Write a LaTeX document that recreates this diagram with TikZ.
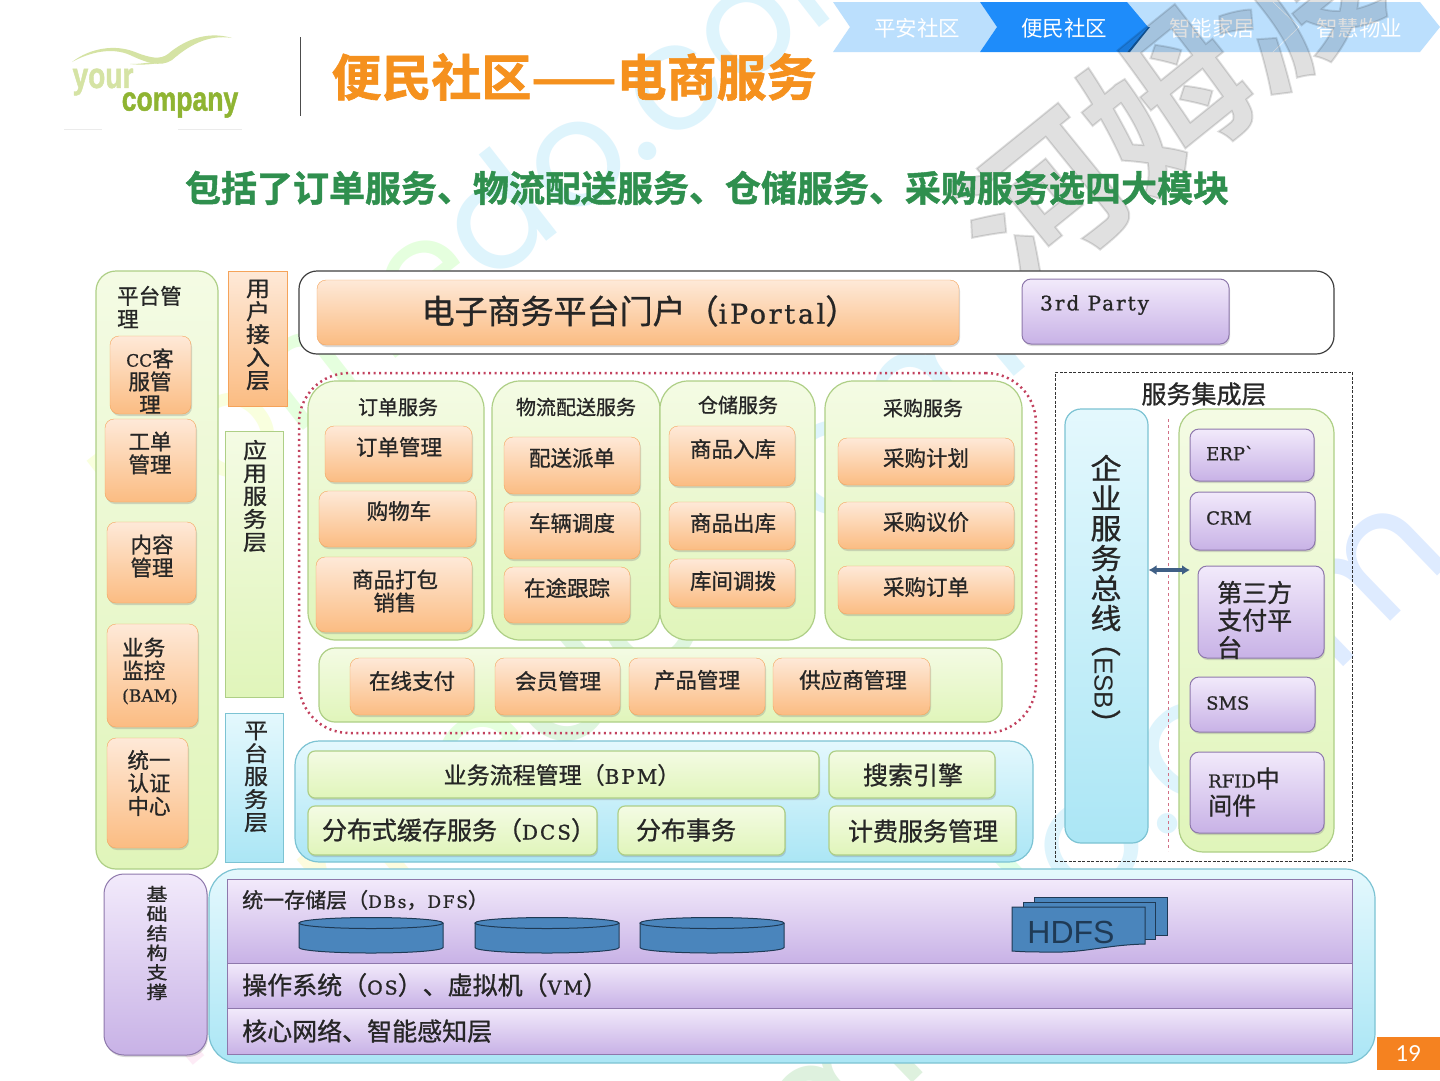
\documentclass[tikz,border=0pt]{standalone}
\usepackage{fontspec}
\usetikzlibrary{shadows,arrows.meta}
\setmainfont{Noto Sans CJK SC}[FakeBold=0.9]
\newfontfamily\cjkhead{Noto Sans CJK SC}
\newfontfamily\cjkfat{Noto Sans CJK SC Bold}[FakeBold=1.2]
\newfontfamily\latn{DejaVu Serif}[FakeBold=0.8]
\newfontfamily\latw{DejaVu Serif}[FakeBold=1,LetterSpace=10]
\newfontfamily\sansf{Liberation Sans}
\newfontfamily\sansb{Liberation Sans Bold}[FakeBold=1.5]
\newfontfamily\markf{Poppins}
\newfontfamily\pagef{Lato}
\definecolor{orangeln}{HTML}{F5A35A}
\definecolor{orangetop}{HTML}{FEE9D8}
\definecolor{orangebot}{HTML}{FBBC82}
\definecolor{purpleln}{HTML}{8E78AC}
\definecolor{purpletop}{HTML}{F2EAFB}
\definecolor{purplebot}{HTML}{C8B2E6}
\definecolor{greenln}{HTML}{AECF86}
\definecolor{greentop}{HTML}{F4FBE4}
\definecolor{greenbot}{HTML}{E0F5BA}
\definecolor{blueln}{HTML}{7CC3D3}
\definecolor{bluetop}{HTML}{E4F8FD}
\definecolor{bluebot}{HTML}{ABE6F5}
\definecolor{drumblue}{HTML}{4A85BC}
\definecolor{drumln}{HTML}{1F3A55}
\definecolor{titleor}{HTML}{F5911E}
\definecolor{subgreen}{HTML}{2F8F4E}
\definecolor{navlight}{HTML}{BBDFFD}
\definecolor{navblue}{HTML}{1E8CFA}
\definecolor{logolight}{HTML}{D5E3A4}
\definecolor{logodark}{HTML}{8FB432}
\definecolor{zonered}{HTML}{C2415E}
\definecolor{busblue}{HTML}{3F5F85}
\definecolor{pagebg}{HTML}{F58220}
\tikzset{>=latex,
  softshadow/.style={drop shadow={shadow xshift=1pt,shadow yshift=-2pt,opacity=.3}},
  orangebox/.style={draw=orangeln,top color=orangetop,bottom color=orangebot,rounded corners=9pt,softshadow},
  purplebox/.style={draw=purpleln,line width=1pt,top color=purpletop,bottom color=purplebot,rounded corners=9pt,softshadow},
  greenpanel/.style={draw=greenln,line width=1.2pt,top color=greentop,bottom color=greenbot,rounded corners=#1},
  greenpanel/.default=18pt,
  greenbox/.style={greenpanel=7pt,softshadow},
  bluepanel/.style={draw=blueln,line width=1.2pt,top color=bluetop,bottom color=bluebot,rounded corners=#1},
  flatorange/.style={draw=orangeln,top color=orangetop,bottom color=orangebot},
  flatgreen/.style={draw=greenln,top color=greentop,bottom color=greenbot},
  flatblue/.style={draw=blueln,top color=bluetop,bottom color=bluebot},
  flatpurple/.style={draw=purpleln,line width=1pt,top color=purpletop,bottom color=purplebot},
  txt/.style={inner sep=0pt,align=center,text=black!85,font=\fontsize{21.5}{23}\selectfont},
  txtl/.style={txt,align=left,anchor=west},
  paneltxt/.style={txt,font=\fontsize{20}{22}\selectfont},
  vertxt/.style={txt,yscale=.9,font=\fontsize{24}{25.5}\selectfont},
  navtxt/.style={inner sep=0pt,text=white,font=\cjkhead\fontsize{21.5}{25}\selectfont},
  drum/.style={draw=drumln,line width=1pt,fill=drumblue},
  wmark/.style={inner sep=0pt,text opacity=.13,font=\markf\fontsize{#1}{#1}\selectfont},
}
% box from corner to corner, text at its own spot
\newcommand{\panel}[6]{%
  \node[#1,inner sep=0pt,minimum width={(#5-#3)*1pt},minimum height={(#6-#4)*1pt}] (#2) at ({(#3+#5)/2},{(#4+#6)/2}) {};
}
\newcommand{\pbox}[9]{%
  \panel{#1}{#2}{#3}{#4}{#5}{#6}
  \node[txt] (#2t) at (#7,#8) {#9};
}
\newcommand{\lbox}[9]{%
  \panel{#1}{#2}{#3}{#4}{#5}{#6}
  \node[txtl] (#2t) at (#7,#8) {#9};
}
\begin{document}
\begin{tikzpicture}[x=1pt,y=-1pt]
  \useasboundingbox (0,0) rectangle (1440,1080);
  \fill[white] (0,0) rectangle (1440,1080);

  % watermark, under the boxes
  \node[wmark=148,rotate=38] (markA) at (505,205) {\textcolor{lime!70!yellow}{ho}\textcolor{green!70!lime}{me}\textcolor{cyan}{do.com}};
  \node[wmark=165,rotate=40] (markB) at (570,670) {\textcolor{magenta!60}{h}\textcolor{cyan}{o}\textcolor{yellow!80!lime}{m}\textcolor{green!70!lime}{e}\textcolor{green!70!black}{do}\textcolor{cyan}{.com}};
  \node[wmark=165,rotate=44] (markC) at (1015,900) {\textcolor{lime!70!yellow}{ho}\textcolor{green!60!black}{me}\textcolor{green!70!cyan}{d}\textcolor{cyan}{o.c}\textcolor{blue!60!cyan}{om}};

  % head
  \fill[navlight] (833,2) -- (980,2) -- (997,27) -- (980,52) -- (833,52) -- (850,27) -- cycle;
  \fill[navlight] (1120,2) -- (1420,2) -- (1440,27) -- (1420,52) -- (1120,52) -- cycle;
  \draw[white] (1273,2) -- (1299,27) -- (1273,52);
  \fill[navblue!65!black] (1127,52) -- (1147,27) -- (1150,27) -- (1130,52) -- cycle;
  \fill[navblue] (980,2) -- (1127,2) -- (1148,27) -- (1127,52) -- (980,52) -- (997,27) -- cycle;
  \node[navtxt] (navA) at (917,28) {平安社区};
  \node[navtxt] (navB) at (1064,28) {便民社区};
  \node[navtxt] (navC) at (1212,28) {智能家居};
  \node[navtxt] (navD) at (1359,28) {智慧物业};
  \node[inner sep=0pt,text=black,text opacity=.12,rotate=39,font=\cjkfat\fontsize{160}{160}\selectfont] (markD) at (1165,100) {河姆渡};
  % logo
  \fill[logolight] (72,62) .. controls (90,48) and (115,44) .. (135,52) .. controls (150,58) and (160,60) .. (168,54) .. controls (182,42) and (205,30) .. (232,38) .. controls (208,34) and (188,46) .. (172,60) .. controls (160,68) and (145,62) .. (130,55) .. controls (112,47) and (90,52) .. (72,62) -- cycle;
  \fill[logolight] (130,64) .. controls (148,64) and (165,60) .. (178,55) .. controls (168,63) and (148,66) .. (130,64) -- cycle;
  \node[inner sep=0pt,text=logolight,xscale=.78,font=\sansb\fontsize{36}{38}\selectfont] (logoA) at (103,82) {your};
  \node[inner sep=0pt,text=logodark,xscale=.78,font=\sansb\fontsize{34}{36}\selectfont] (logoB) at (180,105) {company};
  \draw[black!8,line width=1pt] (64,129) -- (102,129) (178,129) -- (242,129);
  \draw[black!70] (300,37) -- (300,116);
  \node[inner sep=0pt,text=titleor,font=\cjkfat\fontsize{50}{52}\selectfont] (title) at (574,77) {便民社区——电商服务};
  \node[inner sep=0pt,text=subgreen,font=\cjkfat\fontsize{36}{40}\selectfont] (subtitle) at (707,188) {包括了订单服务、物流配送服务、仓储服务、采购服务选四大模块};

  % left column
  \panel{greenpanel=20pt}{mgmt}{96}{271}{218}{869}
  \node[txtl] (mgmtt) at (117,307) {平台管\\理};
  \pbox{orangebox}{cc}{110}{336}{191}{414}{150}{381}{{\latn\fontsize{17}{17}\selectfont CC}客\\服管\\理}
  \pbox{orangebox}{order}{105}{419}{196}{502}{150}{453}{工单\\管理}
  \pbox{orangebox}{content}{107}{522}{196}{603}{152}{556}{内容\\管理}
  \lbox{orangebox}{bam}{107}{624}{198}{727}{122}{671}{业务\\监控\\{\latn\fontsize{17}{17}\selectfont (BAM)}}
  \pbox{orangebox}{auth}{107}{738}{188}{848}{149}{783}{统一\\认证\\中心}

  % layer labels
  \panel{flatorange}{layerA}{228}{271}{287}{406}
  \node[vertxt] (layerAt) at (258,335) {用\\户\\接\\入\\层};
  \panel{flatgreen}{layerB}{225}{431}{283}{697}
  \node[vertxt] (layerBt) at (255,496) {应\\用\\服\\务\\层};
  \panel{flatblue}{layerC}{225}{713}{283}{862}
  \node[vertxt] (layerCt) at (256,777) {平\\台\\服\\务\\层};

  % portal row
  \node[draw=black!75,line width=1.2pt,rounded corners=18pt,fill=white,inner sep=0pt,minimum width=1035pt,minimum height=83pt] (portalrow) at (816.5,312.5) {};
  \pbox{orangebox}{portal}{317}{280}{959}{345}{640}{311}{\fontsize{33}{36}\selectfont 电子商务平台门户（{\latw\fontsize{27}{28}\selectfont iPortal}）}
  \lbox{purplebox}{party}{1022}{279}{1229}{344}{1040}{305}{\latw\fontsize{20}{24}\selectfont 3rd Party}

  % application services
  \node[draw=zonered,dash pattern=on 2pt off 3.5pt,line width=2.5pt,rounded corners=50pt,inner sep=0pt,minimum width=737pt,minimum height=360pt] (appzone) at (667.5,553) {};
  \panel{greenpanel=28pt}{ordersvc}{308}{381}{484}{640}
  \panel{greenpanel=28pt}{logistics}{492}{381}{660}{640}
  \panel{greenpanel=28pt}{storage}{660}{381}{815}{640}
  \panel{greenpanel=28pt}{purchase}{825}{381}{1022}{640}
  \node[paneltxt] (ordersvct) at (398,407) {订单服务};
  \node[paneltxt] (logisticst) at (576,407) {物流配送服务};
  \node[paneltxt] (storaget) at (738,405) {仓储服务};
  \node[paneltxt] (purchaset) at (923,408) {采购服务};
  \panel{greenpanel=16pt}{commonrow}{319}{648}{1002}{722}
  \foreach \nm/\xa/\ya/\xb/\yb/\tx/\ty/\lb in {
    oA/325/426/472/482/399/447/订单管理, oB/319/491/476/547/399/511/购物车,
    oC/316/557/472/632/395/591/{商品打包\\销售},
    lA/504/437/640/494/572/458/配送派单, lB/504/502/640/559/572/523/车辆调度, lC/504/567/630/623/567/588/在途跟踪,
    sA/669/426/795/486/733/449/商品入库, sB/669/502/795/550/733/523/商品出库, sC/669/559/795/607/733/581/库间调拨,
    pA/838/438/1014/485/926/458/采购计划, pB/838/502/1014/549/926/522/采购议价, pC/838/566/1014/614/926/587/采购订单,
    gA/350/658/474/715/412/681/在线支付, gB/495/658/620/715/558/681/会员管理,
    gC/629/658/765/715/697/680/产品管理, gD/773/658/930/715/853/680/供应商管理} {
    \pbox{orangebox}{\nm}{\xa}{\ya}{\xb}{\yb}{\tx}{\ty}{\lb}
  }

  % platform services
  \panel{bluepanel=24pt}{platform}{295}{741}{1033}{862}
  \pbox{greenbox}{bpm}{308}{751}{819}{798}{562}{775}{\fontsize{23}{26}\selectfont 业务流程管理（{\latw\fontsize{20}{22}\selectfont BPM}）}
  \pbox{greenbox}{search}{829}{751}{995}{798}{913}{775}{\fontsize{25}{27}\selectfont 搜索引擎}
  \pbox{greenbox}{dcs}{308}{806}{597}{855}{459}{830}{\fontsize{25}{27}\selectfont 分布式缓存服务（{\latw\fontsize{20}{22}\selectfont DCS}）}
  \pbox{greenbox}{trans}{618}{806}{785}{855}{686}{830}{\fontsize{25}{27}\selectfont 分布事务}
  \pbox{greenbox}{billing}{829}{806}{1016}{855}{923}{831}{\fontsize{25}{27}\selectfont 计费服务管理}

  % service integration
  \node[draw=black!80,dash pattern=on 3pt off 1.5pt,line width=1pt,inner sep=0pt,minimum width=297pt,minimum height=489pt] (integ) at (1203.5,616.5) {};
  \node[txt,font=\fontsize{25}{27}\selectfont] (integt) at (1204,394) {服务集成层};
  \panel{bluepanel=16pt}{esb}{1065}{409}{1148}{843}
  \node[txt,yscale=.92,font=\fontsize{31}{32.6}\selectfont] (esbt) at (1106,543) {企\\业\\服\\务\\总\\线};
  \node[txt,rotate=-90,font=\fontsize{30}{32}\selectfont] (esbb) at (1106,683) {（{\sansf\fontsize{26}{28}\selectfont ESB}）};
  \draw[zonered!75,dashed] (1168,419) -- (1168,851);
  \panel{greenpanel=24pt}{erpside}{1179}{409}{1334}{852}
  \lbox{purplebox}{erp}{1190}{429}{1314}{481}{1206}{453}{\latn\fontsize{18}{22}\selectfont ERP`}
  \lbox{purplebox}{crm}{1190}{492}{1315}{550}{1206}{518}{\latn\fontsize{18}{22}\selectfont CRM}
  \panel{purplebox}{pay}{1198}{566}{1324}{658}
  \node[txtl,font=\fontsize{25}{27.5}\selectfont] (payt) at (1217,620) {第三方\\支付平\\台};
  \lbox{purplebox}{sms}{1190}{677}{1315}{732}{1206}{703}{\latn\fontsize{18}{22}\selectfont SMS}
  \panel{purplebox}{rfid}{1190}{752}{1324}{833}
  \node[txtl,font=\fontsize{24}{27}\selectfont] (rfidt) at (1208,792) {{\latn\fontsize{18}{22}\selectfont RFID}中\\间件};
  \coordinate (busend) at (1190,570);
  \draw[{Latex[length=8pt,width=10pt]}-{Latex[length=8pt,width=10pt]},busblue,line width=3.5pt] (esb.east |- busend) -- (busend);

  % infrastructure
  \panel{purplebox,rounded corners=20pt}{infra}{104}{874}{207}{1055}
  \node[txt,yscale=.85,font=\fontsize{21}{23}\selectfont] (infrat) at (157,943) {基\\础\\结\\构\\支\\撑};
  \panel{bluepanel=30pt}{base}{209}{869}{1375}{1063}
  \lbox{flatpurple}{store}{227}{879}{1352}{963}{242}{900}{\fontsize{21}{24}\selectfont 统一存储层（{\latw\fontsize{17}{20}\selectfont DBs}，{\latw\fontsize{17}{20}\selectfont DFS}）}
  \lbox{flatpurple}{os}{227}{963}{1352}{1008}{242}{985}{\fontsize{25}{27}\selectfont 操作系统（{\latw\fontsize{19}{20}\selectfont OS}）、虚拟机（{\latw\fontsize{19}{20}\selectfont VM}）}
  \lbox{flatpurple}{net}{227}{1008}{1352}{1054}{242}{1031}{\fontsize{25}{27}\selectfont 核心网络、智能感知层}
  \foreach \xa in {299,475,640} {
    \draw[drum] (\xa,923) -- (\xa,947.5) arc[start angle=180,end angle=0,x radius=72,y radius=5.5] -- (\xa+144,923);
    \draw[drum] (\xa+72,923) ellipse[x radius=72,y radius=5.5];
  }
  \draw[drum] (1034,897) rectangle (1167,935);
  \draw[drum] (1023,902) rectangle (1155,939);
  \draw[drum] (1012,907) -- (1145,907) -- (1145,944) .. controls (1105,945) and (1085,953) .. (1050,952) .. controls (1035,952) and (1025,952) .. (1012,951) -- cycle;
  \node[inner sep=0pt,text=drumln,font=\sansf\fontsize{32}{34}\selectfont] (hdfs) at (1071,932) {HDFS};

  % page number
  \node[fill=pagebg,inner sep=0pt,minimum width=63pt,minimum height=33pt,text=white,font=\pagef\fontsize{22}{24}\selectfont] (pageno) at (1408.5,1053.5) {19};
\end{tikzpicture}
\end{document}
